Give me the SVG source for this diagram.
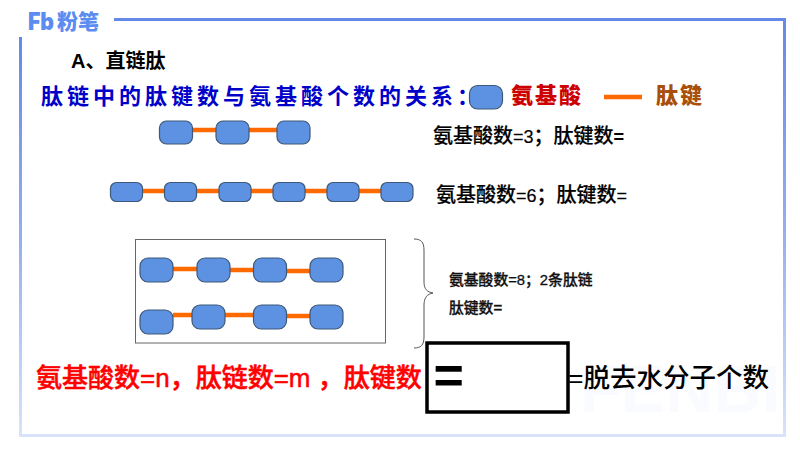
<svg xmlns="http://www.w3.org/2000/svg" width="800" height="450" viewBox="0 0 800 450">
<defs>
<linearGradient id="frameV" x1="0" y1="0" x2="0" y2="1"><stop offset="0" stop-color="#6489e8"/><stop offset="0.5" stop-color="#93aef0"/><stop offset="1" stop-color="#d8e3fb"/></linearGradient>
</defs>
<style>
.n{fill:#5d92e2;stroke:#3f5878;stroke-width:1.2}
.c{stroke:#ff6a00;stroke-width:4.500;fill:none}
text{font-family:"Liberation Sans","Noto Sans CJK SC",sans-serif}
.t{fill:#000;font-size:20px;font-weight:500;stroke:#000;stroke-width:.2px}
.s{fill:#111;font-size:14.800px;font-weight:500;stroke:#111;stroke-width:.3px}
.r{fill:#f00;font-size:26px;font-weight:500;stroke:#f00;stroke-width:.5px}
.cal{font-size:22px;font-weight:900;font-family:"Noto Sans CJK SC",serif;letter-spacing:2px}
.logo{font-weight:900;fill:#5b8cf0}
</style>
<rect width="800" height="450" fill="#fff"/>
<g id="frame" fill="none">
<rect x="19" y="37" width="3" height="399" fill="url(#frameV)"/>
<rect x="114" y="18" width="671" height="3" fill="#6489e8"/>
<rect x="783" y="18" width="3" height="418" fill="url(#frameV)"/>
<rect x="19" y="434" width="767" height="3" fill="#d8e3fb"/>
</g>
<text x="580" y="412" font-size="66" font-weight="700" fill="#fafbfe" textLength="200" lengthAdjust="spacingAndGlyphs">FENBI</text>
<g id="logo">
<text class="logo" x="28" y="30" font-size="24" style="font-family:Inter,sans-serif" textLength="26" lengthAdjust="spacingAndGlyphs">Fb</text>
<text class="logo" x="57" y="29" font-size="21" style="font-family:'Noto Sans CJK SC',sans-serif">粉笔</text>
</g>
<text x="71" y="68" font-size="20" font-weight="700" fill="#000">A、直链肽</text>
<text x="41" y="104" font-size="22" font-weight="700" fill="#0000c8" letter-spacing="4" style="font-family:'Noto Sans CJK SC',sans-serif">肽链中的肽键数与氨基酸个数的关系：</text>
<g id="connectors">
<line class="c" x1="193" y1="130" x2="216" y2="130"/>
<line class="c" x1="249" y1="130" x2="277" y2="130"/>
<line class="c" x1="143" y1="191" x2="164" y2="191"/>
<line class="c" x1="197" y1="191" x2="219" y2="191"/>
<line class="c" x1="251" y1="191" x2="273" y2="191"/>
<line class="c" x1="305" y1="191" x2="327" y2="191"/>
<line class="c" x1="359" y1="191" x2="381" y2="191"/>
<line class="c" x1="173" y1="269" x2="197" y2="269"/>
<line class="c" x1="230" y1="270" x2="253" y2="270"/>
<line class="c" x1="286" y1="271" x2="310" y2="271"/>
<line class="c" x1="173" y1="315" x2="192" y2="315"/>
<line class="c" x1="225" y1="315" x2="253" y2="315"/>
<line class="c" x1="286" y1="316" x2="310" y2="316"/>
<line class="c" x1="604" y1="97" x2="642" y2="97"/>
</g>
<g id="legend-node"><rect class="n" x="469.500" y="85.500" width="33" height="23.500" rx="8"/></g>
<text class="cal" x="511" y="103" fill="#cc0000">氨基酸</text>
<text class="cal" x="656" y="103" fill="#a84f0a">肽键</text>
<g id="chain3">
<rect class="n" x="159.500" y="121" width="33" height="23" rx="7"/>
<rect class="n" x="216" y="121" width="33" height="23" rx="7"/>
<rect class="n" x="277" y="121" width="33" height="23" rx="7"/>
</g>
<g id="chain6">
<rect class="n" x="110.500" y="182.500" width="32" height="19" rx="6"/>
<rect class="n" x="164.500" y="182.500" width="32" height="19" rx="6"/>
<rect class="n" x="219" y="182.500" width="32" height="19" rx="6"/>
<rect class="n" x="273" y="182.500" width="32" height="19" rx="6"/>
<rect class="n" x="327" y="182.500" width="32" height="19" rx="6"/>
<rect class="n" x="381" y="182.500" width="32" height="19" rx="6"/>
</g>
<g id="chain8">
<rect x="135.500" y="239.500" width="250" height="103.500" fill="none" stroke="#666" stroke-width="1"/>
<rect class="n" x="140" y="258" width="33" height="24" rx="8"/>
<rect class="n" x="197" y="258" width="33" height="24" rx="8"/>
<rect class="n" x="253.500" y="258" width="33" height="24" rx="8"/>
<rect class="n" x="310" y="258" width="33" height="24" rx="8"/>
<rect class="n" x="140" y="310" width="33" height="24" rx="8"/>
<rect class="n" x="192" y="305" width="33" height="24" rx="8"/>
<rect class="n" x="253.500" y="305" width="33" height="24" rx="8"/>
<rect class="n" x="310" y="305" width="33" height="24" rx="8"/>
</g>
<path id="brace" d="M414 239 C421 239 424 242 424 250 L424 282 C424 289 427 292 433 293 C427 294 424 298 424 305 L424 337 C424 345 421 348 414 348" fill="none" stroke="#555" stroke-width="1"/>
<text class="t" x="433" y="143">氨基酸数<tspan font-size="18">=3</tspan>；肽键数<tspan font-weight="700" font-size="18">=</tspan></text>
<text class="t" x="436" y="202">氨基酸数<tspan font-size="18">=6</tspan>；肽键数<tspan font-size="18">=</tspan></text>
<text class="s" x="449" y="285">氨基酸数=8；2条肽链</text>
<text class="s" x="449" y="313">肽键数<tspan font-weight="700">=</tspan></text>
<text class="r" x="36" y="387">氨基酸数=n，肽链数=m ，肽键数</text>
<rect id="answer" x="427" y="343" width="141" height="69" fill="#fff" stroke="#000" stroke-width="3.500"/>
<text x="433.500" y="393" font-size="52" font-weight="700" fill="#000">=</text>
<text x="568" y="387" font-size="26.500" font-weight="500" fill="#000">=脱去水分子个数</text>
</svg>
